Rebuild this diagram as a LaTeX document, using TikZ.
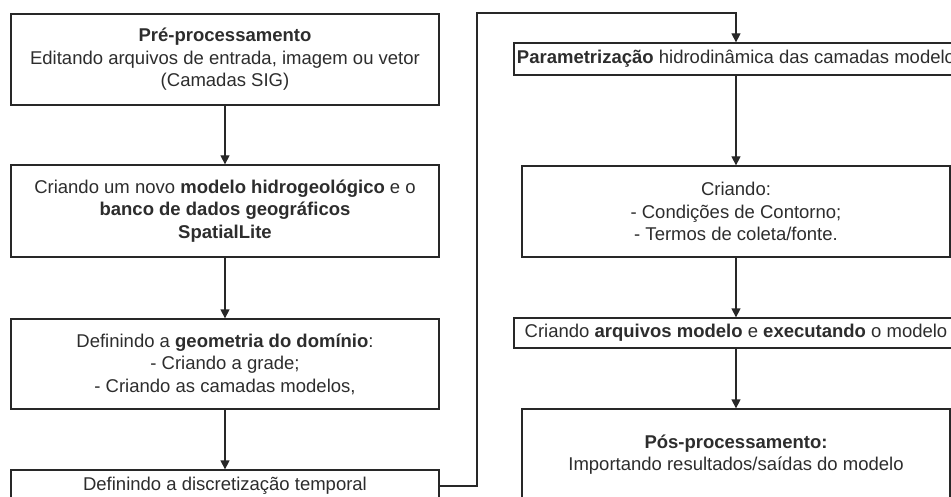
\documentclass[tikz,border=0pt]{standalone}
\usepackage{fontspec}
\setmainfont{Liberation Sans}
\usetikzlibrary{arrows.meta}
\definecolor{linec}{RGB}{40,40,40}
\definecolor{txtc}{RGB}{45,45,45}
\begin{document}
\begin{tikzpicture}[x=1pt,y=-1pt,
  box/.style={draw=linec, line width=1.3pt, rectangle, inner sep=0pt, align=center,
    font=\fontsize{18.5}{22.5}\selectfont, text=txtc},
  flow/.style={draw=linec, line width=1.3pt, -{Triangle[width=9pt,length=9pt]}}]
\useasboundingbox (0,0) rectangle (951,497);
\clip (0,0) rectangle (951,497);
\fill[white] (0,0) rectangle (951,497);
\node[box, minimum width=428pt, minimum height=91pt] (b1) at (225,59.5)
  {\textbf{Pré-processamento}\\Editando arquivos de entrada, imagem ou vetor\\(Camadas SIG)};
\node[box, minimum width=428pt, minimum height=92pt] (b2) at (225,211)
  {Criando um novo \textbf{modelo hidrogeológico} e o\\\textbf{banco de dados geográficos}\\\textbf{SpatialLite}};
\node[box, minimum width=428pt, minimum height=90pt] (b3) at (225,364)
  {Definindo a \textbf{geometria do domínio}:\\- Criando a grade;\\- Criando as camadas modelos,};
\node[box, minimum width=428pt, minimum height=32pt] (b4) at (225,486)
  {Definindo a discretização temporal};
\node[box, minimum width=444pt, minimum height=32pt] (p1) at (736,59)
  {\textbf{Parametrização} hidrodinâmica das camadas modelo};
\node[box, minimum width=428pt, minimum height=91pt] (p2) at (736,211.5)
  {Criando:\\- Condições de Contorno;\\- Termos de coleta/fonte.};
\node[box, minimum width=444pt, minimum height=30pt] (p3) at (736,333)
  {Criando \textbf{arquivos modelo} e \textbf{executando} o modelo};
\node[box, minimum width=428pt, minimum height=91pt] (p4) at (736,454.5)
  {\textbf{Pós-processamento:}\\Importando resultados/saídas do modelo};
\coordinate (c1) at (477,486);
\coordinate (c2) at (477,13);
\coordinate (c3) at (736,13);
\draw[flow] (b1) -- (b2);
\draw[flow] (b2) -- (b3);
\draw[flow] (b3) -- (b4);
\draw[flow] (b4.east) -- (c1) -- (c2) -- (c3) -- (p1.north);
\draw[flow] (p1) -- (p2);
\draw[flow] (p2) -- (p3);
\draw[flow] (p3) -- (p4);
\end{tikzpicture}
\end{document}
